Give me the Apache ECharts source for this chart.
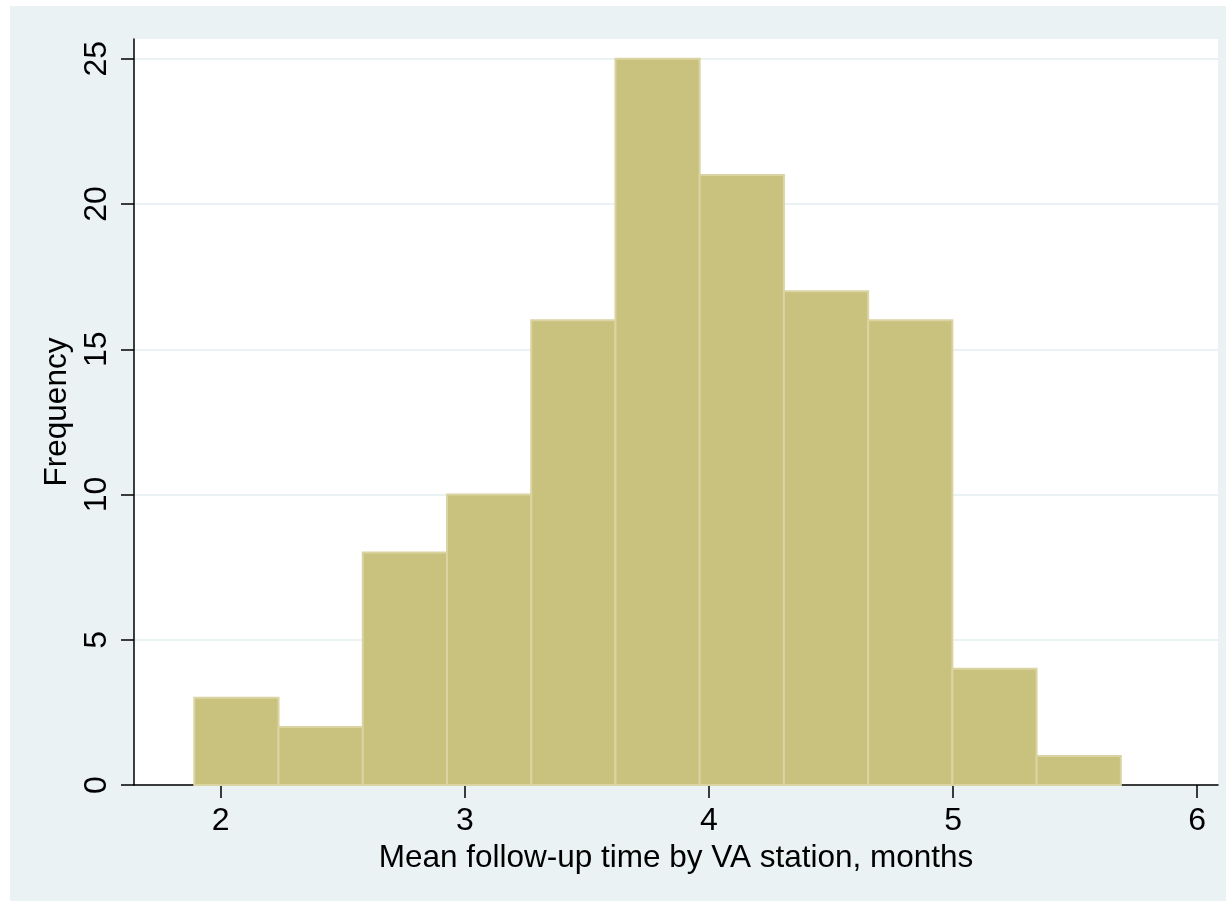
<!DOCTYPE html>
<html>
<head>
<meta charset="utf-8">
<script src="https://cdn.jsdelivr.net/npm/echarts@6/dist/echarts.min.js"></script>
<style>
  html, body { margin: 0; padding: 0; background: #ffffff; }
  #bg { position: absolute; left: 10px; top: 6px; width: 1216px; height: 895px; background: #EAF2F3; }
  #chart { position: absolute; left: 0; top: 0; width: 1226px; height: 901px; }
</style>
</head>
<body>
<div id="bg"></div>
<div id="chart"></div>
<script>
// Histogram bin edges (months) and frequencies
const binEdges = [1.892, 2.237, 2.582, 2.927, 3.272, 3.617, 3.962, 4.307, 4.652, 4.997, 5.342, 5.687];
const counts = [3, 2, 8, 10, 16, 25, 21, 17, 16, 4, 1];
const xTicks = [2, 3, 4, 5, 6];
const yTicks = [0, 5, 10, 15, 20, 25];
const xTitle = 'Mean follow-up time by VA station, months';
const yTitle = 'Frequency';

const histData = counts.map((c, i) => [binEdges[i], binEdges[i + 1], c]);

const chart = echarts.init(document.getElementById('chart'), null, { renderer: 'canvas' });
const font = '"Liberation Sans", Arial, sans-serif';

chart.setOption({
  backgroundColor: 'transparent',
  animation: false,
  grid: {
    left: 134, right: 8, top: 39, bottom: 116,
    show: true, backgroundColor: '#ffffff', borderWidth: 0
  },
  xAxis: {
    type: 'value',
    min: 1.645, max: 6.085,
    name: xTitle,
    nameLocation: 'middle',
    nameGap: 53,
    nameTextStyle: { fontFamily: font, fontSize: 31.5, color: '#000', lineHeight: 31.5 },
    axisLine: { show: true, onZero: false, lineStyle: { color: '#000', width: 1.5 } },
    axisTick: { show: true, length: 13, customValues: xTicks, lineStyle: { color: '#000', width: 1.5 } },
    axisLabel: { customValues: xTicks, margin: 20, fontFamily: font, fontSize: 32, color: '#000', lineHeight: 32 },
    splitLine: { show: false }
  },
  yAxis: {
    type: 'value',
    min: 0, max: 25.68, interval: 5,
    name: yTitle,
    nameLocation: 'middle',
    nameRotate: 90,
    nameGap: 53,
    nameTextStyle: { fontFamily: font, fontSize: 31.5, color: '#000', lineHeight: 31.5 },
    axisLine: { show: true, onZero: false, lineStyle: { color: '#000', width: 1.5 } },
    axisTick: { show: true, length: 13, customValues: yTicks, lineStyle: { color: '#000', width: 1.5 } },
    axisLabel: { customValues: yTicks, rotate: 90, margin: 21, fontFamily: font, fontSize: 32, color: '#000', lineHeight: 32 },
    splitLine: { show: true, lineStyle: { color: '#EAF2F3', width: 2 } }
  },
  series: [{
    type: 'custom',
    data: histData,
    encode: { x: [0, 1], y: 2 },
    renderItem: function (params, api) {
      const p0 = api.coord([api.value(0), 0]);
      const p1 = api.coord([api.value(1), api.value(2)]);
      return {
        type: 'rect',
        shape: { x: p0[0], y: p1[1], width: p1[0] - p0[0], height: p0[1] - p1[1] },
        style: { fill: '#C9C27E', stroke: '#DAD4A2', lineWidth: 2 }
      };
    }
  }]
});
</script>
</body>
</html>
